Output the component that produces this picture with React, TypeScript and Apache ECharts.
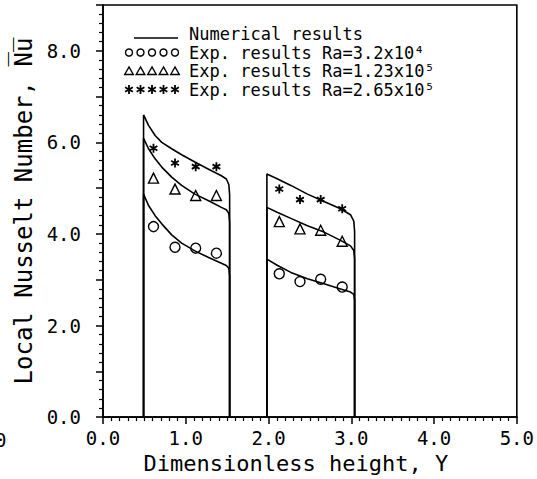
import React, { useEffect, useRef } from 'react';
import * as echarts from 'echarts';

const FONT = 'DejaVu Sans Mono';

// Numerical results, first heated section
const sec1X = [0.49, 0.49, 0.55, 0.63, 0.71, 0.83, 0.95, 1.11, 1.27, 1.43, 1.49, 1.52, 1.53, 1.53];
const numHigh1 = [0, 6.6, 6.37, 6.15, 6.0, 5.86, 5.73, 5.57, 5.42, 5.27, 5.2, 5.08, 4.85, 0];
const numMid1 = [0, 6.09, 5.86, 5.64, 5.46, 5.24, 5.06, 4.87, 4.73, 4.58, 4.53, 4.45, 4.25, 0];
const numLow1 = [0, 4.87, 4.62, 4.4, 4.22, 3.98, 3.8, 3.63, 3.49, 3.36, 3.31, 3.25, 3.08, 0];

// Numerical results, second heated section
const sec2X = [1.98, 1.98, 2.11, 2.27, 2.47, 2.67, 2.87, 2.99, 3.03, 3.04, 3.04];
const numHigh2 = [0, 5.31, 5.2, 5.06, 4.87, 4.71, 4.55, 4.42, 4.28, 4.05, 0];
const numMid2 = [0, 4.58, 4.47, 4.34, 4.18, 4.04, 3.86, 3.74, 3.64, 3.45, 0];
const numLow2 = [0, 3.45, 3.31, 3.16, 3.02, 2.91, 2.8, 2.73, 2.68, 2.55, 0];

// Experimental results
const expX = [0.61, 0.87, 1.12, 1.37, 2.13, 2.38, 2.63, 2.89];
const expRa32e4 = [4.16, 3.71, 3.69, 3.58, 3.13, 2.96, 3.01, 2.84];
const expRa123e5 = [5.22, 4.98, 4.84, 4.84, 4.27, 4.11, 4.08, 3.84];
const expRa265e5 = [5.87, 5.55, 5.47, 5.47, 4.98, 4.75, 4.75, 4.55];

const legendLabels = [
  'Numerical results',
  'Exp. results Ra=3.2x10\u2074',
  'Exp. results Ra=1.23x10\u2075',
  'Exp. results Ra=2.65x10\u2075',
];

const xTicks = [0, 1, 2, 3, 4, 5];
const yTickLabels = [0, 2, 4, 6, 8];

const STAR = 'path://M5,0 L5,10 M0.67,2.5 L9.33,7.5 M0.67,7.5 L9.33,2.5';

const zip = (xs: number[], ys: number[]) => xs.map((x, i) => [x, ys[i]]);

export default function App() {
  const ref = useRef<HTMLDivElement>(null);
  useEffect(() => {
    const chart = echarts.init(ref.current!, null, { renderer: 'svg' });

    const lineSeries = (xs: number[], ys: number[]) => ({
      type: 'line',
      data: zip(xs, ys),
      showSymbol: false,
      symbol: 'none',
      lineStyle: { color: '#000', width: 1.6 },
      silent: true,
    });
    const scatter = (ys: number[], symbol: string, size: number, fill: string, bw: number) => ({
      type: 'scatter',
      data: zip(expX, ys),
      symbol,
      symbolSize: size,
      symbolKeepAspect: true,
      itemStyle: { color: fill, borderColor: '#000', borderWidth: bw, opacity: 1 },
      silent: true,
    });

    const legX = 129;
    const rows = [34, 52.5, 71, 89.5];
    const legendGraphics: any[] = [];
    legendGraphics.push({
      type: 'line',
      shape: { x1: 134, y1: rows[0] + 4, x2: 178, y2: rows[0] + 4 },
      style: { stroke: '#000', lineWidth: 1.6 },
    });
    legendLabels.forEach((t, i) => {
      legendGraphics.push({
        type: 'text',
        x: 189,
        y: rows[i],
        style: {
          text: t,
          fontFamily: FONT,
          fontSize: 17,
          lineHeight: 17,
          fill: '#000',
          verticalAlign: 'middle',
          align: 'left',
        },
      });
    });
    for (let k = 0; k < 5; k++) {
      const cx = legX + k * 11.5;
      legendGraphics.push({
        type: 'circle',
        shape: { cx, cy: rows[1], r: 3.5 },
        style: { fill: 'none', stroke: '#000', lineWidth: 1.4 },
      });
      legendGraphics.push({
        type: 'polygon',
        shape: { points: [[cx, rows[2] - 4], [cx - 4.3, rows[2] + 3.5], [cx + 4.3, rows[2] + 3.5]] },
        style: { fill: 'none', stroke: '#000', lineWidth: 1.4 },
      });
      const cy = rows[3];
      legendGraphics.push({ type: 'line', shape: { x1: cx, y1: cy - 4.5, x2: cx, y2: cy + 4.5 }, style: { stroke: '#000', lineWidth: 1.8 } });
      legendGraphics.push({ type: 'line', shape: { x1: cx - 3.9, y1: cy - 2.2, x2: cx + 3.9, y2: cy + 2.2 }, style: { stroke: '#000', lineWidth: 1.8 } });
      legendGraphics.push({ type: 'line', shape: { x1: cx - 3.9, y1: cy + 2.2, x2: cx + 3.9, y2: cy - 2.2 }, style: { stroke: '#000', lineWidth: 1.8 } });
    }
    // partially cut-off label at the far left edge
    legendGraphics.push({
      type: 'text',
      x: -5,
      y: 440,
      style: { text: '0', fontFamily: FONT, fontSize: 19, fill: '#000', verticalAlign: 'middle', align: 'left' },
    });

    const axisCommon = {
      axisLine: { show: true, onZero: false, lineStyle: { color: '#000', width: 1.6 } },
      axisTick: { show: true, inside: false, length: 7, lineStyle: { color: '#000', width: 1.5 } },
      splitLine: { show: false },
    };

    chart.setOption({
      animation: false,
      backgroundColor: '#fff',
      grid: {
        left: 103,
        right: 16,
        top: 5,
        bottom: 61,
        show: true,
        borderColor: '#000',
        borderWidth: 1.6,
        backgroundColor: 'transparent',
      },
      xAxis: {
        type: 'value',
        min: 0,
        max: 5,
        interval: 1,
        ...axisCommon,
        minorTick: { show: true, splitNumber: 10, length: 4, lineStyle: { color: '#000', width: 1.2 } },
        axisLabel: {
          color: '#000',
          fontFamily: FONT,
          fontSize: 19,
          margin: 11,
          formatter: (v: number) => (xTicks.includes(v) ? v.toFixed(1) : ''),
        },
        name: 'Dimensionless height, Y',
        nameLocation: 'middle',
        nameGap: 33,
        nameTextStyle: { color: '#000', fontFamily: FONT, fontSize: 22, padding: [0, 28, 0, 0] },
      },
      yAxis: {
        type: 'value',
        min: 0,
        max: 9,
        interval: 1,
        ...axisCommon,
        minorTick: { show: true, splitNumber: 5, length: 4, lineStyle: { color: '#000', width: 1.2 } },
        axisLabel: {
          color: '#000',
          fontFamily: FONT,
          fontSize: 19,
          margin: 22,
          formatter: (v: number) => (yTickLabels.includes(v) ? v.toFixed(1) : ''),
        },
        name: 'Local Nusselt Number, N\u0305u\u0305',
        nameLocation: 'middle',
        nameRotate: 90,
        nameGap: 58,
        nameTextStyle: { color: '#000', fontFamily: FONT, fontSize: 24 },
      },
      graphic: legendGraphics,
      series: [
        lineSeries(sec1X, numHigh1),
        lineSeries(sec1X, numMid1),
        lineSeries(sec1X, numLow1),
        lineSeries(sec2X, numHigh2),
        lineSeries(sec2X, numMid2),
        lineSeries(sec2X, numLow2),
        scatter(expRa32e4, 'circle', 10, '#fff', 1.4),
        scatter(expRa123e5, 'triangle', 10, '#fff', 1.4),
        scatter(expRa265e5, STAR, 9, '#000', 1.8),
      ],
    });
    return () => chart.dispose();
  }, []);
  return (
    <div
      ref={ref}
      style={{ position: 'fixed', left: 0, top: 0, width: 537, height: 479, background: '#fff' }}
    />
  );
}
